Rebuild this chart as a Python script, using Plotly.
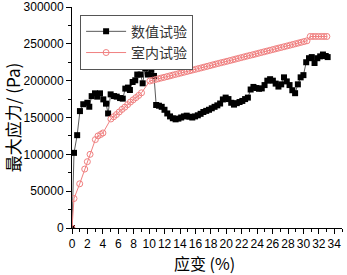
import plotly.graph_objects as go

# 数值试验 (numerical test)
num_x = [0, 0.26, 0.67, 1.03, 1.46, 1.99, 2.24, 2.55, 2.98, 3.28, 3.63, 4.06, 4.41, 4.68,
         5.01, 5.45, 5.80, 6.23, 6.58, 6.91, 7.26, 7.51, 7.86, 8.20, 8.46, 8.90, 9.16,
         9.50, 9.85, 10.28, 10.63,
         10.91, 11.27, 11.63, 11.99, 12.35, 12.71, 13.07, 13.43, 13.79, 14.15, 14.51,
         14.87, 15.23, 15.59, 15.95, 16.31, 16.67, 17.03, 17.40, 17.76, 18.12, 18.48,
         18.84, 19.20, 19.56, 19.92, 20.28, 20.64, 21.00, 21.36, 21.72, 22.08, 22.44,
         22.80, 23.16, 23.52, 23.88, 24.24, 24.60, 24.96, 25.32, 25.68, 26.04, 26.40,
         26.76, 27.12, 27.48, 27.84, 28.20, 28.56, 28.92, 29.28, 29.64, 30.00, 30.36,
         30.72, 31.08, 31.44, 31.80, 32.17, 32.53, 32.89, 33.14]
num_y = [0, 102000, 126000, 158700, 168000, 170000, 164600, 179000, 182800, 178300,
         182800, 174600, 168800, 155500,
         181400, 179100, 178300, 176400, 175600, 189200, 190600, 187300, 198200, 200500,
         208300, 208300, 196400, 216500, 208300, 214600, 206400,
         167000, 166000, 164500, 160500, 155500, 151500, 149000, 147500, 148500, 150000,
         151500, 152500, 151000, 150000, 151500, 153000, 155000, 157500, 159000, 160500,
         162500, 164500, 166500, 169000, 174500, 177000, 175000, 170000, 167500, 169500,
         171000, 172500, 175000, 177000, 188000, 191500, 190000, 189000, 189500, 194000,
         200000, 202000, 200000, 196000, 192000, 195000, 204500, 199000, 194000, 187000,
         183000, 195000, 204500, 207500, 225000, 230500, 232000, 224000, 230500, 233000,
         235500, 233500, 232000]

# 室内试验 (laboratory test)
lab_x = [0, 0.26, 1.0, 1.65, 1.99, 2.34, 3.03, 3.37, 3.72, 4.01,
         5.04, 5.40, 5.76, 6.12, 6.48, 6.84, 7.21, 7.57, 7.93, 8.29, 8.65, 9.01,
         10.09, 10.46, 10.83, 11.20, 11.57, 11.94, 12.31, 12.68, 13.05, 13.42,
         13.80, 14.17, 14.54, 14.91, 15.28, 15.65, 16.02, 16.39, 16.76, 17.13,
         17.50, 17.87, 18.24, 18.61, 18.98, 19.35, 19.72, 20.09, 20.46, 20.83,
         21.20, 21.57, 21.94, 22.31, 22.68, 23.05, 23.43, 23.80, 24.17, 24.54,
         24.91, 25.28, 25.65, 26.02, 26.39, 26.76, 27.13, 27.50, 27.87, 28.24,
         28.61, 28.98, 29.35, 29.72, 30.09, 30.46,
         30.88, 31.24, 31.60, 31.96, 32.32, 32.68, 33.04]
lab_y = [0, 40000, 60000, 80000, 90000, 100000, 120000, 125000, 127000, 129000,
         148000, 151000, 154000, 157500, 161000, 164000, 167500, 171000, 174000,
         177000, 180000, 183500,
         199600, 200600, 201600, 202600, 203600, 204500, 205500, 206500, 207500,
         208500, 209500, 210500, 211500, 212500, 213500, 214500, 215400, 216400,
         217400, 218400, 219400, 220400, 221400, 222400, 223400, 224400, 225300,
         226300, 227300, 228300, 229300, 230300, 231300, 232300, 233300, 234300,
         235200, 236200, 237200, 238200, 239200, 240200, 241200, 242200, 243200,
         244200, 245100, 246100, 247100, 248100, 249100, 250100, 251100, 252100,
         253100, 254100,
         260000, 260000, 260000, 260000, 260000, 260000, 260000]

x_ticks = list(range(0, 35, 2))
y_ticks = [0, 50000, 100000, 150000, 200000, 250000, 300000]

CJK = "Noto Sans CJK SC"
NUM = "Liberation Sans, Arial"

fig = go.Figure()
fig.add_trace(go.Scatter(
    x=num_x, y=num_y, mode="lines+markers", name="数值试验",
    line=dict(color="#5a5a5a", width=1),
    marker=dict(symbol="square", size=6, color="black"),
))
fig.add_trace(go.Scatter(
    x=lab_x, y=lab_y, mode="lines+markers", name="室内试验",
    line=dict(color="#f08080", width=1),
    marker=dict(symbol="circle-open", size=6, color="#f08080", line=dict(width=1)),
))

axis_common = dict(showline=True, linecolor="black", linewidth=1, showgrid=False,
                   zeroline=False, automargin=False)

fig.update_layout(
    width=347, height=275,
    margin=dict(l=72, r=5, t=7, b=47),
    paper_bgcolor="white", plot_bgcolor="white",
    showlegend=True,
    legend=dict(x=0.03, y=0.965, xanchor="left", yanchor="top",
                bordercolor="#555555", borderwidth=1, bgcolor="white",
                font=dict(family=CJK, size=14, color="#333333"),
                itemwidth=40, tracegroupgap=0),
    xaxis=dict(range=[0, 35], tickvals=x_ticks, ticktext=[str(v) for v in x_ticks],
               tickangle=0,
               ticks="outside", ticklen=5, tickcolor="black",
               minor=dict(dtick=1, ticks="outside", ticklen=3, tickcolor="black"),
               tickfont=dict(family=NUM, size=12, color="black"),
               **axis_common),
    yaxis=dict(range=[0, 300000], tickvals=y_ticks, ticktext=[str(v) for v in y_ticks],
               ticks="outside", ticklen=5, tickcolor="black",
               minor=dict(dtick=25000, ticks="outside", ticklen=3, tickcolor="black"),
               tickfont=dict(family=NUM, size=12, color="black"),
               title=dict(text="最大应力/ (Pa)", font=dict(family=CJK, size=17, color="black"),
                          standoff=7),
               **axis_common),
    xaxis2=dict(range=[0, 35], overlaying="x", side="top", anchor="y",
                tickvals=x_ticks, showticklabels=False, ticks="inside", ticklen=5,
                tickcolor="black",
                minor=dict(dtick=1, ticks="inside", ticklen=3, tickcolor="black"),
                **axis_common),
    yaxis2=dict(range=[0, 300000], overlaying="y", side="right", anchor="x",
                tickvals=y_ticks, showticklabels=False, ticks="inside", ticklen=5,
                tickcolor="black",
                minor=dict(dtick=25000, ticks="inside", ticklen=3, tickcolor="black"),
                **axis_common),
    annotations=[dict(text="应变 (%)", xref="paper", yref="paper", x=0.49, y=-0.157,
                      xanchor="center", yanchor="middle", showarrow=False,
                      font=dict(family=CJK, size=16, color="black"))],
)

fig.write_html("out.html", config={"displayModeBar": False},
               post_script="document.body.style.margin='0';document.body.style.padding='0';")
